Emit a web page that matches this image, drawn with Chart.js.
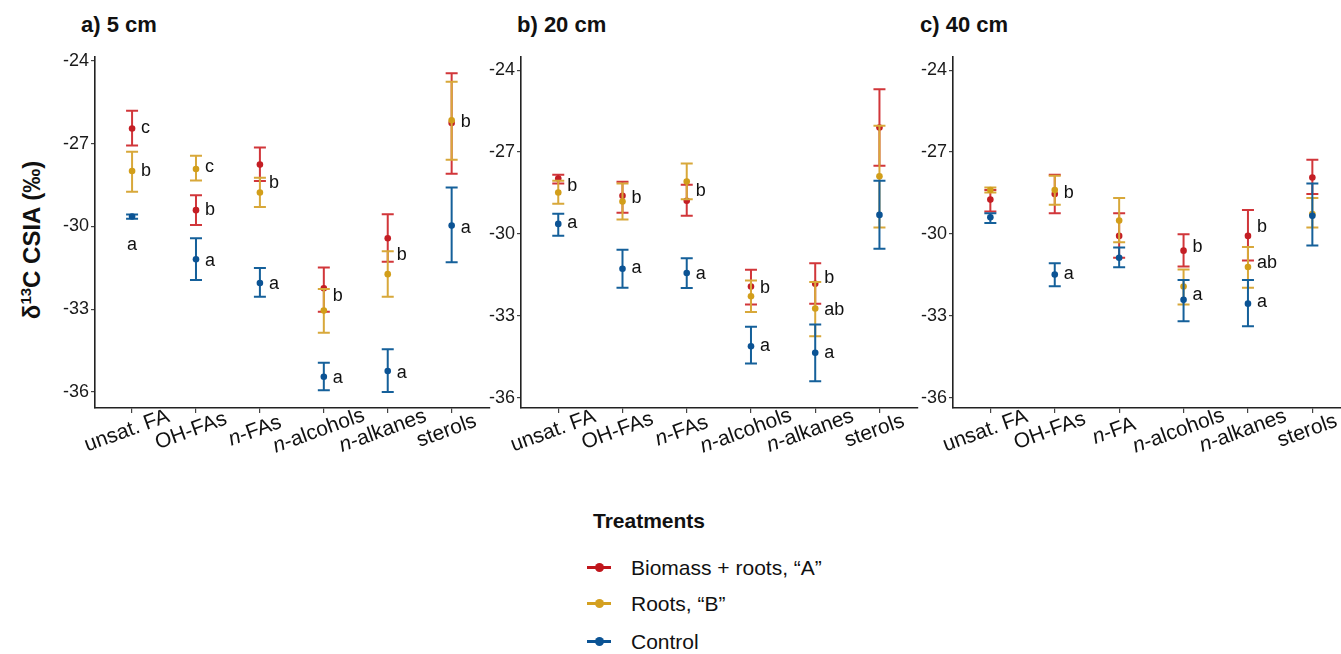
<!DOCTYPE html>
<html>
<head>
<meta charset="utf-8">
<script src="https://cdn.jsdelivr.net/npm/chart.js@4.4.0/dist/chart.umd.min.js"></script>
<style>
  body { margin: 0; background: #fff; }
  #wrap { position: relative; width: 1341px; height: 654px; overflow: hidden;
          font-family: "Liberation Sans", Arial, sans-serif; color: #111; }
  canvas { position: absolute; top: 0; }
  .ptitle { position: absolute; top: 12px; font-size: 22px; font-weight: bold; white-space: nowrap; }
  .ytitle { position: absolute; left: 32px; top: 240px; font-size: 24px; font-weight: bold;
            white-space: nowrap; transform: translate(-50%, -50%) rotate(-90deg); }
  .ytitle sup { font-size: 15px; line-height: 0; }
  .legtitle { position: absolute; left: 593px; top: 509px; font-size: 21px; font-weight: bold; }
  .legitem { position: absolute; left: 631px; font-size: 21px; line-height: 24px; white-space: nowrap; }
  .sym { position: absolute; left: -44px; top: 10px; width: 24px; height: 3px; }
  .sym::after { content: ""; position: absolute; left: 8px; top: -3px; width: 9px; height: 9px;
                border-radius: 50%; background: inherit; }
</style>
</head>
<body>
<div id="wrap">
  <div class="ptitle" style="left:81px">a) 5 cm</div>
  <div class="ptitle" style="left:517px">b) 20 cm</div>
  <div class="ptitle" style="left:920px">c) 40 cm</div>
  <div class="ytitle">δ<sup>13</sup>C CSIA (‰)</div>

  <canvas id="c5"  width="495" height="480" style="left:0px"></canvas>
  <canvas id="c20" width="463" height="480" style="left:460px"></canvas>
  <canvas id="c40" width="463" height="480" style="left:893px"></canvas>

  <div class="legtitle">Treatments</div>
  <div class="legitem" style="top:556px"><span class="sym" style="background:#C0161C"></span>Biomass + roots, “A”</div>
  <div class="legitem" style="top:592px"><span class="sym" style="background:#D4A020"></span>Roots, “B”</div>
  <div class="legitem" style="top:630px"><span class="sym" style="background:#0B5394"></span>Control</div>
</div>

<script>
/* ── Data ── */
const cats5  = ['unsat. FA', 'OH-FAs', 'n-FAs', 'n-alcohols', 'n-alkanes', 'sterols'];
const cats40 = ['unsat. FA', 'OH-FAs', 'n-FA', 'n-alcohols', 'n-alkanes', 'sterols'];
const yTicks = [-36, -33, -30, -27, -24];

// a) 5 cm
const bio5    = [-26.45, -29.41, -27.76, -32.24, -30.43, -26.25];
const bio5Hi  = [-25.81, -28.87, -27.14, -31.49, -29.56, -24.45];
const bio5Lo  = [-27.07, -29.95, -28.35, -33.09, -31.28, -28.09];
const root5   = [-27.99, -27.92, -28.77, -33.05, -31.73, -26.15];
const root5Hi = [-27.29, -27.44, -28.24, -32.27, -30.90, -24.76];
const root5Lo = [-28.74, -28.34, -29.30, -33.85, -32.55, -27.58];
const ctrl5   = [-29.64, -31.19, -32.05, -35.45, -35.24, -29.97];
const ctrl5Hi = [-29.57, -30.43, -31.51, -34.94, -34.45, -28.59];
const ctrl5Lo = [-29.72, -31.94, -32.55, -35.94, -36.00, -31.30];

// b) 20 cm
const bio20    = [-27.97, -28.60, -28.78, -31.92, -31.82, -26.10];
const bio20Hi  = [-27.83, -28.09, -28.20, -31.31, -31.07, -24.70];
const bio20Lo  = [-28.15, -29.22, -29.33, -32.58, -32.55, -27.50];
const root20   = [-28.48, -28.81, -28.08, -32.28, -32.73, -27.89];
const root20Hi = [-28.05, -28.15, -27.42, -31.70, -31.76, -26.04];
const root20Lo = [-28.89, -29.47, -28.73, -32.86, -33.74, -29.76];
const ctrl20   = [-29.63, -31.27, -31.43, -34.11, -34.35, -29.30];
const ctrl20Hi = [-29.26, -30.58, -30.89, -33.40, -33.31, -28.05];
const ctrl20Lo = [-30.06, -31.97, -31.98, -34.74, -35.39, -30.54];

// c) 40 cm
const bio40    = [-28.74, -28.54, -30.07, -30.61, -30.07, -27.93];
const bio40Hi  = [-28.39, -27.83, -29.24, -30.01, -29.12, -27.28];
const bio40Lo  = [-29.18, -29.24, -30.87, -31.19, -30.97, -28.54];
const root40   = [-28.39, -28.39, -29.51, -31.92, -31.21, -29.27];
const root40Hi = [-28.30, -27.87, -28.68, -31.30, -30.48, -28.68];
const root40Lo = [-28.48, -28.93, -30.30, -32.58, -31.97, -29.76];
const ctrl40   = [-29.39, -31.48, -30.87, -32.41, -32.55, -29.33];
const ctrl40Hi = [-29.24, -31.07, -30.49, -31.68, -31.68, -28.15];
const ctrl40Lo = [-29.60, -31.91, -31.22, -33.19, -33.38, -30.42];

// significance letters: [category index, value, letter, below-point?]
const letters5 = [
  [0, -26.45, 'c'], [0, -27.99, 'b'], [0, -30.67, 'a', true],
  [1, -27.84, 'c'], [1, -29.40, 'b'], [1, -31.24, 'a'],
  [2, -28.41, 'b'], [2, -32.09, 'a'],
  [3, -32.51, 'b'], [3, -35.48, 'a'],
  [4, -31.03, 'b'], [4, -35.31, 'a'],
  [5, -26.21, 'b'], [5, -30.06, 'a']
];
const letters20 = [
  [0, -28.26, 'b'], [0, -29.59, 'a'],
  [1, -28.67, 'b'], [1, -31.24, 'a'],
  [2, -28.42, 'b'], [2, -31.46, 'a'],
  [3, -31.97, 'b'], [3, -34.11, 'a'],
  [4, -31.63, 'b'], [4, -32.80, 'ab'], [4, -34.36, 'a']
];
const letters40 = [
  [1, -28.51, 'b'], [1, -31.48, 'a'],
  [3, -30.46, 'b'], [3, -32.25, 'a'],
  [4, -29.73, 'b'], [4, -31.05, 'ab'], [4, -32.49, 'a']
];

/* ── Colours ── */
const COL = {
  bio:  { bar: '#D1363A', pt: '#C41E24' },
  root: { bar: '#D8A83A', pt: '#D29E1A' },
  ctrl: { bar: '#15609A', pt: '#0B5394' }
};
const FONT = '"Liberation Sans", Arial, sans-serif';

/* ── Error bars, drawn just before each dataset's points ── */
const errorBars = {
  id: 'errorBars',
  beforeDatasetDraw(chart, args) {
    const ds = chart.data.datasets[args.index];
    const { ctx, scales: { x, y } } = chart;
    ctx.save();
    ctx.strokeStyle = ds.barColor;
    ctx.lineWidth = 2;
    ds.lo.forEach((lo, i) => {
      const px = x.getPixelForValue(i);
      const yl = y.getPixelForValue(lo), yh = y.getPixelForValue(ds.hi[i]);
      ctx.beginPath();
      ctx.moveTo(px, yl); ctx.lineTo(px, yh);
      ctx.moveTo(px - 6, yl); ctx.lineTo(px + 6, yl);
      ctx.moveTo(px - 6, yh); ctx.lineTo(px + 6, yh);
      ctx.stroke();
    });
    ctx.restore();
  }
};

/* ── Letters + rotated category labels (italic n-) ── */
const annotations = {
  id: 'annotations',
  afterDraw(chart) {
    const { ctx, scales: { x, y } } = chart;
    const opts = chart.options.plugins.annotations;
    ctx.save();
    ctx.fillStyle = '#111';
    ctx.font = '18px ' + FONT;
    ctx.textBaseline = 'middle';
    opts.letters.forEach(([c, v, t, below]) => {
      const px = x.getPixelForValue(c), py = y.getPixelForValue(v);
      ctx.textAlign = below ? 'center' : 'left';
      ctx.fillText(t, below ? px : px + 9, py);
    });

    const fR = '21px ' + FONT, fI = 'italic 21px ' + FONT;
    opts.cats.forEach((lab, i) => {
      const px = x.getPixelForValue(i);
      const ital = lab.startsWith('n-');
      const head = ital ? 'n' : '';
      const rest = ital ? lab.slice(1) : lab;
      ctx.font = fI; const w1 = head ? ctx.measureText(head).width : 0;
      ctx.font = fR; const w2 = ctx.measureText(rest).width;
      ctx.save();
      ctx.translate(px - 5, 431);
      ctx.rotate(-20 * Math.PI / 180);
      ctx.textAlign = 'left';
      let x0 = -(w1 + w2) / 2;
      if (head) { ctx.font = fI; ctx.fillText(head, x0, 0); x0 += w1; }
      ctx.font = fR; ctx.fillText(rest, x0, 0);
      ctx.restore();
    });
    ctx.restore();
  }
};

function series(label, mean, lo, hi, col, order) {
  return {
    label, order,
    data: mean.map((v, i) => ({ x: i, y: v })),
    lo, hi, barColor: col.bar,
    backgroundColor: col.pt, borderColor: col.pt,
    pointRadius: 3.3, borderWidth: 0, showLine: false
  };
}

function makePanel(id, cats, sets, letters, yMin, yMax, yWidth) {
  return new Chart(document.getElementById(id), {
    type: 'scatter',
    data: { datasets: sets },
    plugins: [errorBars, annotations],
    options: {
      responsive: false,
      animation: false,
      events: [],
      layout: { padding: { top: 57, left: 0, right: 5, bottom: 0 } },
      plugins: {
        legend: { display: false },
        tooltip: { enabled: false },
        annotations: { cats, letters }
      },
      scales: {
        x: {
          type: 'linear', min: -0.58, max: 5.6,
          afterBuildTicks: s => { s.ticks = cats.map((c, i) => ({ value: i })); },
          afterFit: s => { s.height = 72; },
          ticks: { display: false },
          grid: { drawOnChartArea: false, drawTicks: true, tickLength: 5, color: '#444', lineWidth: 1.2 },
          border: { display: true, color: '#222', width: 1.6 }
        },
        y: {
          type: 'linear', min: yMin, max: yMax,
          afterBuildTicks: s => { s.ticks = yTicks.map(v => ({ value: v })); },
          afterFit: s => { s.width = yWidth; },
          ticks: { color: '#1a1a1a', padding: 2, font: { family: FONT, size: 18 }, callback: v => String(v) },
          grid: { drawOnChartArea: false, drawTicks: true, tickLength: 4, color: '#444', lineWidth: 1.2 },
          border: { display: true, color: '#222', width: 1.6 }
        }
      }
    }
  });
}

makePanel('c5', cats5, [
  series('Biomass + roots, “A”', bio5, bio5Lo, bio5Hi, COL.bio, 3),
  series('Roots, “B”', root5, root5Lo, root5Hi, COL.root, 2),
  series('Control', ctrl5, ctrl5Lo, ctrl5Hi, COL.ctrl, 1)
], letters5, -36.58, -23.86, 95);

makePanel('c20', cats5, [
  series('Biomass + roots, “A”', bio20, bio20Lo, bio20Hi, COL.bio, 3),
  series('Roots, “B”', root20, root20Lo, root20Hi, COL.root, 2),
  series('Control', ctrl20, ctrl20Lo, ctrl20Hi, COL.ctrl, 1)
], letters20, -36.37, -23.52, 61);

makePanel('c40', cats40, [
  series('Biomass + roots, “A”', bio40, bio40Lo, bio40Hi, COL.bio, 3),
  series('Roots, “B”', root40, root40Lo, root40Hi, COL.root, 2),
  series('Control', ctrl40, ctrl40Lo, ctrl40Hi, COL.ctrl, 1)
], letters40, -36.37, -23.52, 60);
</script>
</body>
</html>
